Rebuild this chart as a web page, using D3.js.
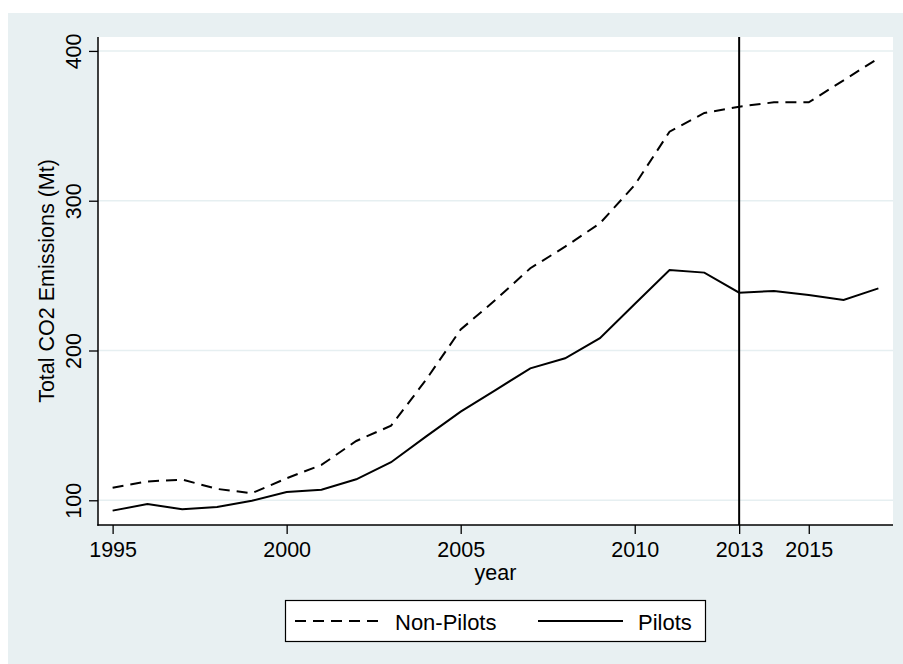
<!DOCTYPE html>
<html>
<head>
<meta charset="utf-8">
<script src="https://cdn.jsdelivr.net/npm/d3@7"></script>
<style>
  html, body { margin: 0; padding: 0; background: #ffffff; }
  svg { display: block; }
  text { font-family: "Liberation Sans", Arial, Helvetica, sans-serif; fill: #000; }
</style>
</head>
<body>
<svg id="chart" width="903" height="664"></svg>
<script>
// ---- Data ----
const years = [1995,1996,1997,1998,1999,2000,2001,2002,2003,2004,2005,2006,2007,2008,2009,2010,2011,2012,2013,2014,2015,2016,2017];
const nonPilots = [108.4,112.6,113.8,107.6,104.7,114.7,123.6,139.6,149.8,180.3,214.0,233.8,254.9,269.3,284.9,310.5,346.1,358.6,362.8,365.7,365.7,380.4,395.1];
const pilots = [93.1,97.5,94.0,95.5,99.7,105.5,107.1,114.0,125.4,142.5,159.2,173.6,188.1,194.8,208.2,231.1,253.8,252.0,238.6,239.7,237.1,233.7,241.5];
const xTickValues = [1995,2000,2005,2010,2013,2015];
const yTickValues = [100,200,300,400];
const policyYear = 2013;
const seriesNames = ["Non-Pilots","Pilots"];
const yTitle = "Total CO2 Emissions (Mt)";
const xTitle = "year";

// ---- Layout ----
const svg = d3.select("#chart");
const plot = {left: 98, right: 893, top: 37, bottom: 525};
const FS = 21.5;

svg.append("rect").attr("x", 8).attr("y", 13).attr("width", 895).attr("height", 651)
  .attr("fill", "#e8f0f2");
svg.append("rect").attr("x", plot.left).attr("y", plot.top)
  .attr("width", plot.right - plot.left).attr("height", plot.bottom - plot.top)
  .attr("fill", "#ffffff");

const x = d3.scaleLinear().domain([1994.58, 2017.42]).range([plot.left, plot.right]);
const y = d3.scaleLinear().domain([83.5, 409.3]).range([plot.bottom, plot.top]);

// gridlines
svg.append("g").selectAll("line").data(yTickValues).join("line")
  .attr("x1", plot.left).attr("x2", plot.right)
  .attr("y1", d => y(d)).attr("y2", d => y(d))
  .attr("stroke", "#e6eff1").attr("stroke-width", 1.6);

// lines
const line = d3.line().x((d, i) => x(years[i])).y(d => y(d));
svg.append("path").datum(nonPilots).attr("d", line)
  .attr("fill", "none").attr("stroke", "#000").attr("stroke-width", 2)
  .attr("stroke-dasharray", "11,7");
svg.append("path").datum(pilots).attr("d", line)
  .attr("fill", "none").attr("stroke", "#000").attr("stroke-width", 2);

// vertical policy line
svg.append("line")
  .attr("x1", x(policyYear)).attr("x2", x(policyYear))
  .attr("y1", plot.top).attr("y2", plot.bottom)
  .attr("stroke", "#000").attr("stroke-width", 2);

// axes
const xAxis = svg.append("g").attr("transform", `translate(0,${plot.bottom})`)
  .call(d3.axisBottom(x).tickValues(xTickValues).tickFormat(d3.format("d")).tickSize(9).tickSizeOuter(0));
xAxis.select(".domain").remove();
xAxis.selectAll(".tick line").attr("stroke", "#000").attr("stroke-width", 1.3);
xAxis.selectAll(".tick text").attr("font-size", FS).attr("y", 32).attr("dy", 0)
  .style("font-family", '"Liberation Sans", Arial, sans-serif');

const yAxis = svg.append("g").attr("transform", `translate(${plot.left},0)`)
  .call(d3.axisLeft(y).tickValues(yTickValues).tickFormat(d3.format("d")).tickSize(9).tickSizeOuter(0));
yAxis.select(".domain").remove();
yAxis.selectAll(".tick line").attr("stroke", "#000").attr("stroke-width", 1.3);
yAxis.selectAll(".tick text").attr("font-size", FS)
  .attr("x", 0).attr("y", 0).attr("dy", 0)
  .attr("text-anchor", "middle")
  .attr("transform", "translate(-17,0) rotate(-90)")
  .style("font-family", '"Liberation Sans", Arial, sans-serif');

// axis lines
svg.append("line").attr("x1", plot.left).attr("x2", plot.left)
  .attr("y1", plot.top).attr("y2", plot.bottom + 0.7)
  .attr("stroke", "#000").attr("stroke-width", 1.5);
svg.append("line").attr("x1", plot.left - 0.7).attr("x2", plot.right)
  .attr("y1", plot.bottom).attr("y2", plot.bottom)
  .attr("stroke", "#000").attr("stroke-width", 1.5);

// titles
svg.append("text").attr("x", (plot.left + plot.right) / 2).attr("y", 580)
  .attr("text-anchor", "middle").attr("font-size", FS).text(xTitle);
svg.append("text")
  .attr("transform", `translate(54,${(plot.top + plot.bottom) / 2}) rotate(-90)`)
  .attr("text-anchor", "middle").attr("font-size", FS).text(yTitle);

// legend
const lg = svg.append("g");
lg.append("rect").attr("x", 285.5).attr("y", 600.5).attr("width", 420).attr("height", 41)
  .attr("fill", "#fff").attr("stroke", "#000").attr("stroke-width", 1.2);
lg.append("line").attr("x1", 295).attr("x2", 380).attr("y1", 621).attr("y2", 621)
  .attr("stroke", "#000").attr("stroke-width", 2).attr("stroke-dasharray", "11,7");
lg.append("text").attr("x", 395).attr("y", 630).attr("font-size", FS + 0.5).text(seriesNames[0]);
lg.append("line").attr("x1", 538).attr("x2", 623).attr("y1", 621).attr("y2", 621)
  .attr("stroke", "#000").attr("stroke-width", 2);
lg.append("text").attr("x", 638).attr("y", 630).attr("font-size", FS + 0.5).text(seriesNames[1]);
</script>
</body>
</html>
